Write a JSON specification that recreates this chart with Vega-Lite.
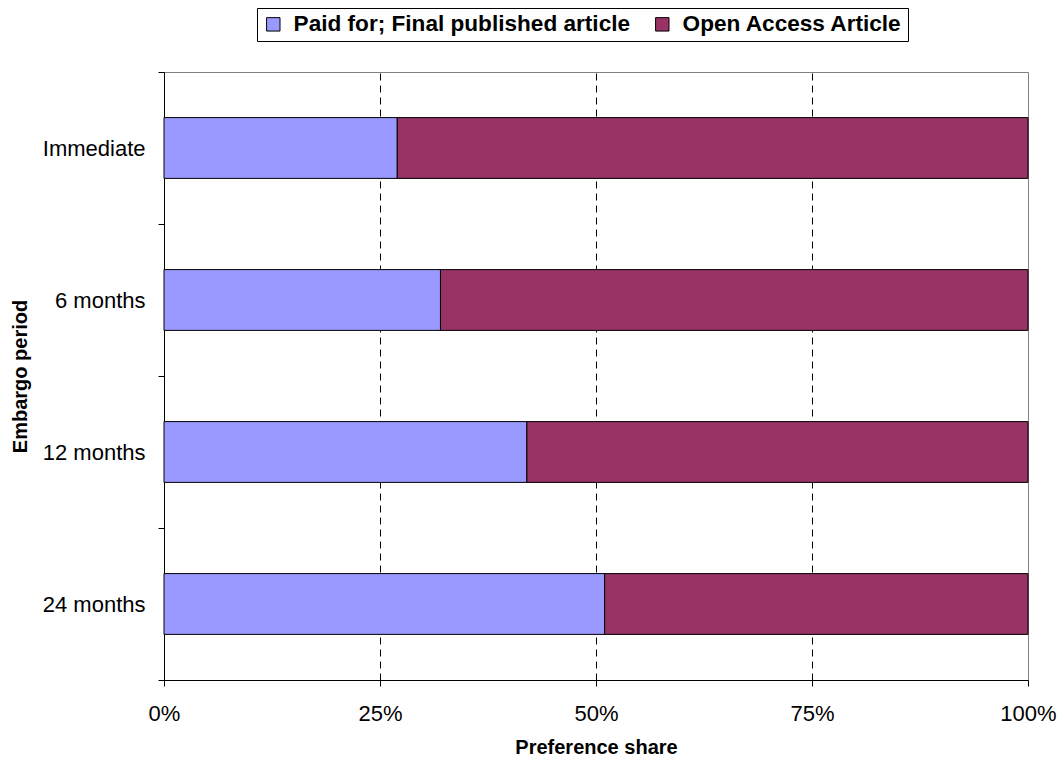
{
  "$schema": "https://vega.github.io/schema/vega-lite/v6.json",
  "autosize": "none",
  "width": 864,
  "height": 608,
  "padding": {"left": 164, "top": 72, "right": 31, "bottom": 78},
  "background": "white",
  "config": {
    "font": "Liberation Sans",
    "view": {"stroke": "#808080", "strokeWidth": 1}
  },
  "data": {
    "values": [
      {"period": "Immediate", "type": "Paid for; Final published article", "share": 27},
      {"period": "Immediate", "type": "Open Access Article", "share": 73},
      {"period": "6 months", "type": "Paid for; Final published article", "share": 32},
      {"period": "6 months", "type": "Open Access Article", "share": 68},
      {"period": "12 months", "type": "Paid for; Final published article", "share": 42},
      {"period": "12 months", "type": "Open Access Article", "share": 58},
      {"period": "24 months", "type": "Paid for; Final published article", "share": 51},
      {"period": "24 months", "type": "Open Access Article", "share": 49}
    ]
  },
  "mark": {"type": "bar", "stroke": "black", "strokeWidth": 1, "height": {"band": 0.4}},
  "encoding": {
    "y": {
      "field": "period",
      "type": "nominal",
      "sort": ["Immediate", "6 months", "12 months", "24 months"],
      "scale": {"paddingInner": 0, "paddingOuter": 0},
      "axis": {
        "title": "Embargo period",
        "titleFontSize": 20,
        "titleFontWeight": "bold",
        "titleColor": "black",
        "titlePadding": 12,
        "labelFontSize": 22,
        "labelColor": "black",
        "labelPadding": 13,
        "tickBand": "extent",
        "ticks": true,
        "tickSize": 6,
        "tickColor": "black",
        "domainColor": "black",
        "grid": false
      }
    },
    "x": {
      "field": "share",
      "type": "quantitative",
      "stack": "normalize",
      "scale": {"domain": [0, 1]},
      "axis": {
        "title": "Preference share",
        "titleFontSize": 20,
        "titleFontWeight": "bold",
        "titleColor": "black",
        "titlePadding": 13,
        "values": [0, 0.25, 0.5, 0.75, 1],
        "format": ".0%",
        "labelFontSize": 22,
        "labelColor": "black",
        "labelPadding": 17,
        "labelFlush": false,
        "tickSize": 6,
        "tickColor": "black",
        "domainColor": "black",
        "grid": true,
        "gridColor": "black",
        "gridDash": [7, 5],
        "gridOpacity": {"condition": {"test": "datum.value === 0 || datum.value === 1", "value": 0}, "value": 1}
      }
    },
    "order": {"field": "type", "sort": "descending"},
    "color": {
      "field": "type",
      "type": "nominal",
      "sort": ["Paid for; Final published article", "Open Access Article"],
      "scale": {
        "domain": ["Paid for; Final published article", "Open Access Article"],
        "range": ["#9999FF", "#993366"]
      },
      "legend": {
        "title": null,
        "orient": "none",
        "direction": "horizontal",
        "legendX": 93,
        "legendY": -64,
        "padding": 5,
        "strokeColor": "black",
        "fillColor": "white",
        "cornerRadius": 0,
        "symbolType": "square",
        "symbolSize": 180,
        "symbolStrokeColor": "black",
        "symbolStrokeWidth": 1,
        "symbolOpacity": 1,
        "labelFontSize": 22.6,
        "labelFontWeight": "bold",
        "labelColor": "black",
        "labelLimit": 500,
        "labelOffset": 9,
        "columnPadding": 20
      }
    }
  }
}
